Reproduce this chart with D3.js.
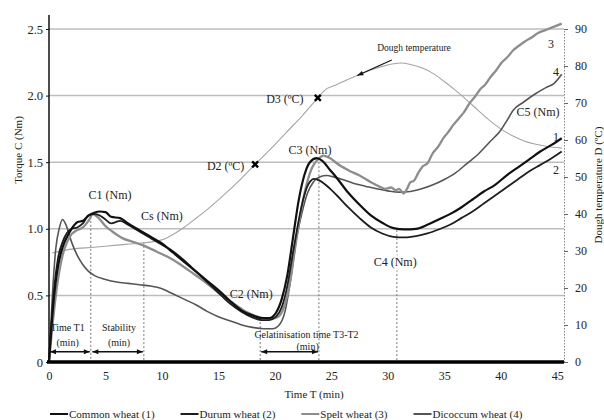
<!DOCTYPE html>
<html>
<head>
<meta charset="utf-8">
<script src="https://cdn.jsdelivr.net/npm/d3@7"></script>
<style>
body { margin: 0; background: #fff; }
svg text { font-family: "Liberation Serif", "Times New Roman", serif; fill: #222; }
</style>
</head>
<body>
<svg id="chart" width="604" height="420"></svg>
<script>
// torque curves (time in min, torque in Nm)
var commonT = [0,0.4,0.8,1.2,1.6,2.0,2.5,3.0,3.5,4.0,4.5,5.0,5.5,6.3,7.0,8,9,10,11,12,13,14,15,16,17,18,18.8,19.5,20.1,20.6,21.1,21.6,22.1,22.6,23.1,23.7,24.2,24.9,25.5,26.5,27.5,28.5,29.5,30.5,31.5,32.5,33.5,34.5,35.5,36.5,37.5,38.5,39.5,40.5,41.5,42.5,43.5,44.5,45.4];
var commonC = [0,0.45,0.72,0.86,0.94,1.0,1.05,1.06,1.10,1.12,1.13,1.125,1.09,1.08,1.04,0.99,0.94,0.89,0.82,0.75,0.68,0.61,0.54,0.46,0.39,0.35,0.33,0.33,0.37,0.47,0.65,0.93,1.21,1.40,1.50,1.53,1.51,1.44,1.38,1.27,1.18,1.10,1.045,1.005,0.995,1.0,1.03,1.07,1.11,1.16,1.22,1.28,1.33,1.40,1.46,1.52,1.58,1.63,1.68];

var durumT = [0,0.4,0.8,1.2,1.6,2.0,2.5,3.0,3.5,4.0,4.5,5.0,5.5,6.3,7.0,8,9,10,11,12,13,14,15,16,17,18,18.8,19.5,20.1,20.6,21.1,21.6,22.1,22.6,23.0,23.5,24.0,24.9,25.5,26.5,27.5,28.5,29.5,30.5,31.5,32.5,33.5,34.5,35.5,36.5,37.5,38.5,39.5,40.5,41.5,42.5,43.5,44.5,45.4];
var durumC = [0,0.5,0.78,0.9,0.97,1.0,1.01,1.04,1.10,1.11,1.10,1.07,1.04,1.06,1.03,0.98,0.93,0.88,0.83,0.76,0.68,0.60,0.52,0.44,0.38,0.335,0.315,0.315,0.34,0.41,0.57,0.82,1.06,1.25,1.34,1.375,1.36,1.30,1.25,1.16,1.08,1.01,0.965,0.94,0.935,0.945,0.965,0.995,1.03,1.08,1.13,1.19,1.25,1.31,1.37,1.43,1.48,1.53,1.58];

var speltT = [0,0.4,0.8,1.2,1.6,2.0,2.5,3.0,3.5,3.9,4.4,5.0,5.6,6.5,7.5,8.5,9.5,10.5,11.5,12.5,13.5,14.5,15.5,16.5,17.5,18.3,19.0,19.7,20.3,20.8,21.3,21.8,22.3,22.8,23.3,23.8,24.3,24.9,25.5,26.5,27.5,28.5,29.3,29.8,30.3,30.7,31.0,31.4,31.7,32.0,32.3,32.7,33.1,33.5,34.0,34.4,35.0,35.3,35.8,36.3,36.7,37.3,37.7,38.2,38.6,39.1,39.6,40.1,40.6,41.1,41.7,42.2,42.8,43.3,43.9,44.5,45.4];
var speltC = [0,0.35,0.62,0.8,0.9,0.96,0.99,1.01,1.06,1.11,1.08,1.02,0.98,0.93,0.90,0.87,0.83,0.79,0.74,0.68,0.62,0.555,0.49,0.43,0.375,0.345,0.33,0.325,0.34,0.41,0.58,0.86,1.13,1.33,1.46,1.52,1.55,1.53,1.49,1.44,1.40,1.35,1.315,1.30,1.31,1.29,1.30,1.265,1.30,1.35,1.36,1.42,1.47,1.49,1.57,1.61,1.69,1.72,1.78,1.83,1.87,1.95,1.99,2.05,2.08,2.14,2.19,2.25,2.29,2.34,2.38,2.41,2.44,2.47,2.49,2.51,2.54];

var dicoccumT = [0,0.3,0.6,0.9,1.2,1.5,2.0,2.5,3.0,3.5,4,5,6,7,8,9,10,11,12,13,14,15,16,17,18,19,19.8,20.4,20.9,21.4,21.9,22.4,22.9,23.4,24.0,24.6,25.2,26,27,28,29,30,31,32,33,34,35,36,37,38,39,40,40.6,41.1,42,43,44,44.7,45.4];
var dicoccumC = [0,0.5,0.85,1.0,1.07,1.03,0.9,0.8,0.73,0.68,0.65,0.62,0.60,0.59,0.58,0.57,0.55,0.51,0.47,0.43,0.38,0.34,0.31,0.28,0.26,0.25,0.25,0.28,0.38,0.62,0.92,1.12,1.27,1.35,1.39,1.40,1.39,1.37,1.34,1.32,1.30,1.285,1.275,1.28,1.30,1.33,1.37,1.42,1.49,1.56,1.65,1.74,1.82,1.89,1.95,2.01,2.06,2.09,2.16];

// dough temperature (°C)
var tempT = [0.3,2,4,6,8,10,11,12,13,14,15,16,17,18.25,19.5,21,22.5,23.8,24.4,25.5,26.5,27.5,28.5,29.5,30.5,31.1,32,33,34,35,36,37,38,39,40,41,42,43,44,45.4];
var tempD = [29.5,30.5,31,31.6,32.1,33.0,34.5,36.5,38.8,41.2,43.8,46.6,49.5,53.4,57.2,62,66.8,71.4,73.4,75.0,76.4,77.7,78.9,79.9,80.6,80.8,80.4,79.5,78.0,75.8,73.4,70.8,68.0,65.3,63.0,61.2,59.8,58.9,58.3,57.8];

var seriesNames = ["Common wheat (1)", "Durum wheat (2)", "Spelt wheat (3)", "Dicoccum wheat (4)"];
var seriesNums = ["1", "2", "3", "4"];
var xTicks = [0, 5, 10, 15, 20, 25, 30, 35, 40, 45];
var torqueTicks = [0, 0.5, 1.0, 1.5, 2.0, 2.5];
var tempTicks = [0, 10, 20, 30, 40, 50, 60, 70, 80, 90];

// characteristic times and torques
var markT = [3.7, 8.4, 18.7, 23.9, 30.8];
var markC = [1.12, 0.9, 0.33, 1.53, 0.99];
var spanStart = [0, 3.75, 18.7];
var spanEnd = [3.7, 8.4, 23.9];
var dPointsT = [18.25, 23.8];
var dPointsD = [53.4, 71.4];

var svg = d3.select("#chart");
var x = d3.scaleLinear().domain([0, 45.6]).range([49, 564]);
var y = d3.scaleLinear().domain([0, 2.5]).range([362, 29]);
var yT = d3.scaleLinear().domain([0, 90]).range([362, 29]);

var colors = ["#111", "#1e1e1e", "#8d8d8d", "#555"];
var widths = [2.2, 1.8, 2.3, 1.6];

var defs = svg.append("defs");
defs.append("marker").attr("id", "ah")
	.attr("viewBox", "0 0 10 10").attr("refX", 10).attr("refY", 5)
	.attr("markerUnits", "userSpaceOnUse")
	.attr("markerWidth", 7).attr("markerHeight", 6)
	.attr("orient", "auto-start-reverse")
	.append("path").attr("d", "M0,1L10,5L0,9Z").attr("fill", "#111");

// grid
svg.append("g").selectAll("line")
	.data(torqueTicks.filter(function (d) { return d > 0; }))
	.enter().append("line")
	.attr("x1", x(0)).attr("x2", x(45.6))
	.attr("y1", function (d) { return y(d); })
	.attr("y2", function (d) { return y(d); })
	.attr("stroke", "#bdbdbd").attr("stroke-width", 1.5);

// dashed markers
svg.append("g").selectAll("line")
	.data(d3.zip(markT, markC))
	.enter().append("line")
	.attr("x1", function (d) { return x(d[0]); })
	.attr("x2", function (d) { return x(d[0]); })
	.attr("y1", function (d) { return y(d[1]); })
	.attr("y2", y(0))
	.attr("stroke", "#777").attr("stroke-width", 1)
	.attr("stroke-dasharray", "2,2");

// temperature
var tempLine = d3.line()
	.x(function (d) { return x(d[0]); })
	.y(function (d) { return yT(d[1]); })
	.curve(d3.curveMonotoneX);
svg.append("path").datum(d3.zip(tempT, tempD))
	.attr("d", tempLine).attr("fill", "none")
	.attr("stroke", "#a5a5a5").attr("stroke-width", 1.1);

var torqueLine = d3.line()
	.x(function (d) { return x(d[0]); })
	.y(function (d) { return y(d[1]); })
	.curve(d3.curveMonotoneX);

var series = [d3.zip(commonT, commonC), d3.zip(durumT, durumC), d3.zip(speltT, speltC), d3.zip(dicoccumT, dicoccumC)];
var drawOrder = [3, 2, 1, 0];
drawOrder.forEach(function (i) {
	svg.append("path").datum(series[i])
		.attr("d", torqueLine).attr("fill", "none")
		.attr("stroke", colors[i]).attr("stroke-width", widths[i])
		.attr("stroke-linejoin", "round");
});

// axes
var xAxis = d3.axisBottom(x).tickValues(xTicks).tickSize(0).tickPadding(9);
var gx = svg.append("g").attr("transform", "translate(0," + y(0) + ")").call(xAxis);
gx.select(".domain").remove();
gx.selectAll("text").attr("font-size", 12).attr("font-family", null);

var yAxis = d3.axisLeft(y).tickValues(torqueTicks).tickSize(3).tickPadding(3)
	.tickFormat(function (d) { return d === 0 ? "0" : d3.format(".1f")(d); });
var gy = svg.append("g").attr("transform", "translate(" + x(0) + ",0)").call(yAxis);
gy.select(".domain").remove();
gy.selectAll("text").attr("font-size", 12.5).attr("font-family", null);
gy.selectAll("line").attr("stroke", "#111");

var yAxisR = d3.axisRight(yT).tickValues(tempTicks).tickSize(4).tickSizeOuter(0).tickPadding(7);
var gr = svg.append("g").attr("transform", "translate(" + x(45.6) + ",0)").call(yAxisR);
gr.select(".domain").attr("stroke", "#888").attr("stroke-dasharray", "1.5,1.5");
gr.selectAll("line").attr("stroke", "#666");
gr.selectAll("text").attr("font-size", 12).attr("font-family", null);

svg.append("line")
	.attr("x1", x(0)).attr("x2", x(0)).attr("y1", y(0)).attr("y2", 15)
	.attr("stroke", "#111").attr("stroke-width", 1.5);
svg.append("line")
	.attr("x1", x(0) - 2).attr("x2", x(45.6)).attr("y1", y(0)).attr("y2", y(0))
	.attr("stroke", "#000").attr("stroke-width", 3.5);

// axis titles
svg.append("text").attr("transform", "translate(22,150) rotate(-90)")
	.attr("text-anchor", "middle").attr("font-size", 11)
	.text("Torque  C (Nm)");
svg.append("text").attr("transform", "translate(602,185) rotate(-90)")
	.attr("text-anchor", "middle").attr("font-size", 11)
	.text("Dough temperature  D (ºC)");
svg.append("text").attr("x", 314).attr("y", 398)
	.attr("text-anchor", "middle").attr("font-size", 11)
	.text("Time  T (min)");

// double arrows for the time spans
svg.append("g").selectAll("line")
	.data(d3.zip(spanStart, spanEnd))
	.enter().append("line")
	.attr("x1", function (d) { return x(d[0]) + 1; })
	.attr("x2", function (d) { return x(d[1]) - 1; })
	.attr("y1", y(0.077)).attr("y2", y(0.077))
	.attr("stroke", "#111").attr("stroke-width", 1.5)
	.attr("marker-start", "url(#ah)").attr("marker-end", "url(#ah)");

var small = svg.append("g").attr("font-size", 10).attr("text-anchor", "middle");
small.append("text").attr("x", x(1.65)).attr("y", 331).text("Time T1");
small.append("text").attr("x", x(1.65)).attr("y", 346).text("(min)");
small.append("text").attr("x", x(6.2)).attr("y", 331).text("Stability");
small.append("text").attr("x", x(6.2)).attr("y", 346).text("(min)");
small.append("text").attr("x", x(22.8)).attr("y", 338).text("Gelatinisation time  T3-T2");
small.append("text").attr("x", x(22.9)).attr("y", 350).text("(min)");

// point labels
var lab = svg.append("g").attr("font-size", 12).attr("text-anchor", "middle");
lab.append("text").attr("x", x(5.4)).attr("y", y(1.225)).text("C1 (Nm)");
lab.append("text").attr("x", x(10.0)).attr("y", y(1.065)).text("Cs (Nm)");
lab.append("text").attr("x", x(17.9)).attr("y", y(0.48)).text("C2 (Nm)");
lab.append("text").attr("x", x(23.1)).attr("y", y(1.565)).text("C3 (Nm)");
lab.append("text").attr("x", x(30.65)).attr("y", y(0.72)).text("C4 (Nm)")
	.attr("stroke", "#fff").attr("stroke-width", 4).attr("paint-order", "stroke");
lab.append("text").attr("x", x(43.3)).attr("y", y(1.85)).text("C5 (Nm)");
lab.append("text").attr("x", x(18.0)).attr("y", yT(52)).attr("text-anchor", "end").attr("dx", -8).text("D2 (ºC)");
lab.append("text").attr("x", x(23.6)).attr("y", yT(70)).attr("text-anchor", "end").attr("dx", -12).text("D3 (ºC)");

// end-of-curve numbers
var numC = [1.69, 1.44, 2.39, 2.18];
svg.append("g").attr("font-size", 12).attr("text-anchor", "middle")
	.selectAll("text").data(seriesNums).enter().append("text")
	.attr("x", function (d, i) { return x(44.9) - (i === 2 ? 5 : 0); })
	.attr("y", function (d, i) { return y(numC[i]) + 4; })
	.text(function (d) { return d; });

// D2 / D3 crosses
svg.append("g").selectAll("path")
	.data(d3.zip(dPointsT, dPointsD))
	.enter().append("path")
	.attr("transform", function (d) { return "translate(" + x(d[0]) + "," + yT(d[1]) + ")"; })
	.attr("d", "M-3,-3L3,3M-3,3L3,-3")
	.attr("stroke", "#000").attr("stroke-width", 2.4);

// dough temperature arrow
svg.append("line")
	.attr("x1", x(30.35)).attr("y1", yT(81.6))
	.attr("x2", x(27.3)).attr("y2", yT(77.4))
	.attr("stroke", "#111").attr("stroke-width", 1.1)
	.attr("marker-end", "url(#ah)");
svg.append("text").attr("x", 414).attr("y", 51)
	.attr("text-anchor", "middle").attr("font-size", 9.5)
	.text("Dough temperature");

// legend
var lx = 50;
seriesNames.forEach(function (name, i) {
	svg.append("line").attr("x1", lx).attr("x2", lx + 18)
		.attr("y1", 414).attr("y2", 414)
		.attr("stroke", colors[i]).attr("stroke-width", 2);
	var t = svg.append("text").attr("x", lx + 19).attr("y", 418)
		.attr("font-size", 11).text(name);
	lx = lx + 19 + t.node().getComputedTextLength() + 26;
});
</script>
</body>
</html>
